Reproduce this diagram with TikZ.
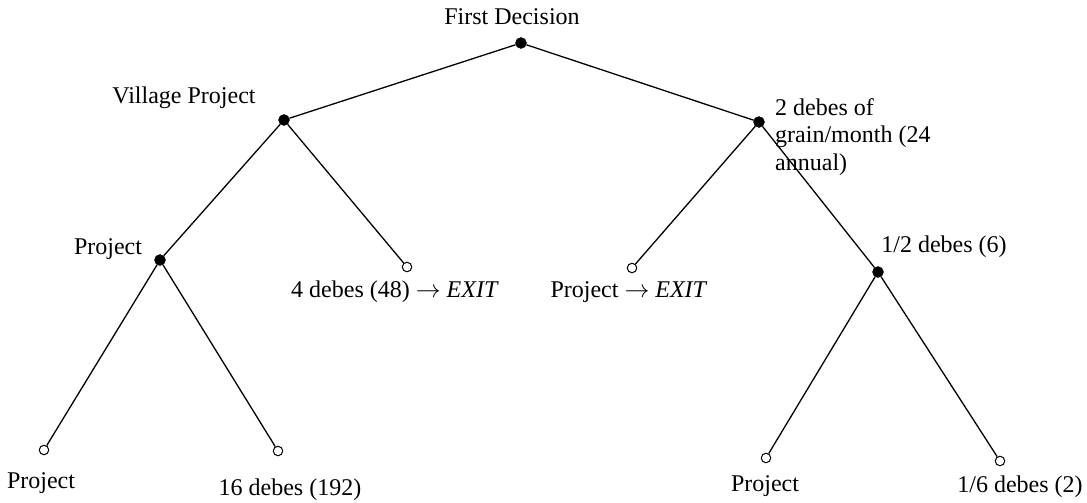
\documentclass[tikz,border=0pt]{standalone}
\usepackage{fontspec}
\setmainfont{Liberation Serif}
\usetikzlibrary{positioning}

\begin{document}
\begin{tikzpicture}[
  x=1pt, y=-1pt,
  every node/.style={font=\fontsize{24}{27.5}\selectfont},
  decnode/.style={circle,fill=black,draw=black,inner sep=0pt,minimum size=11pt},
  endnode/.style={circle,draw=black,fill=white,inner sep=0pt,minimum size=9.5pt,line width=1pt},
  branch/.style={line width=1.3pt},
]
  \useasboundingbox (0,0) rectangle (1087,503);

  % decision nodes
  \node[decnode] (root) at (521,43) {};
  \node[decnode] (vill) at (284,120) {};
  \node[decnode] (grain) at (759,122) {};
  \node[decnode] (proj) at (160,260) {};
  \node[decnode] (half) at (878,272) {};

  % end nodes
  \node[endnode] (exitA) at (407,267) {};
  \node[endnode] (exitB) at (632,268) {};
  \node[endnode] (leafA) at (44,450) {};
  \node[endnode] (leafB) at (278,451) {};
  \node[endnode] (leafC) at (766,458) {};
  \node[endnode] (leafD) at (1000,461) {};

  % branches
  \draw[branch] (root) -- (vill);
  \draw[branch] (root) -- (grain);
  \draw[branch] (vill) -- (proj);
  \draw[branch] (vill) -- (exitA);
  \draw[branch] (grain) -- (exitB);
  \draw[branch] (grain) -- (half);
  \draw[branch] (proj) -- (leafA);
  \draw[branch] (proj) -- (leafB);
  \draw[branch] (half) -- (leafC);
  \draw[branch] (half) -- (leafD);

  % labels
  \node (rootlab) at (512,17) {First Decision};
  \node (villlab) at (184,98) {Village Project};
  \node[align=left,anchor=north west,inner sep=0pt] (grainlab) at (775,98)
    {2 debes of\\grain/month (24\\annual)};
  \node (projlab) at (108,249) {Project};
  \node (halflab) at (944,247) {1/2 debes (6)};
  \node (exitAlab) at (395,292) {4 debes (48) $\rightarrow$ \textit{EXIT}};
  \node (exitBlab) at (629,292) {Project $\rightarrow$ \textit{EXIT}};
  \node (leafAlab) at (41,483) {Project};
  \node (leafBlab) at (290,490) {16 debes (192)};
  \node (leafClab) at (765,486) {Project};
  \node (leafDlab) at (1020,487) {1/6 debes (2)};
\end{tikzpicture}
\end{document}
